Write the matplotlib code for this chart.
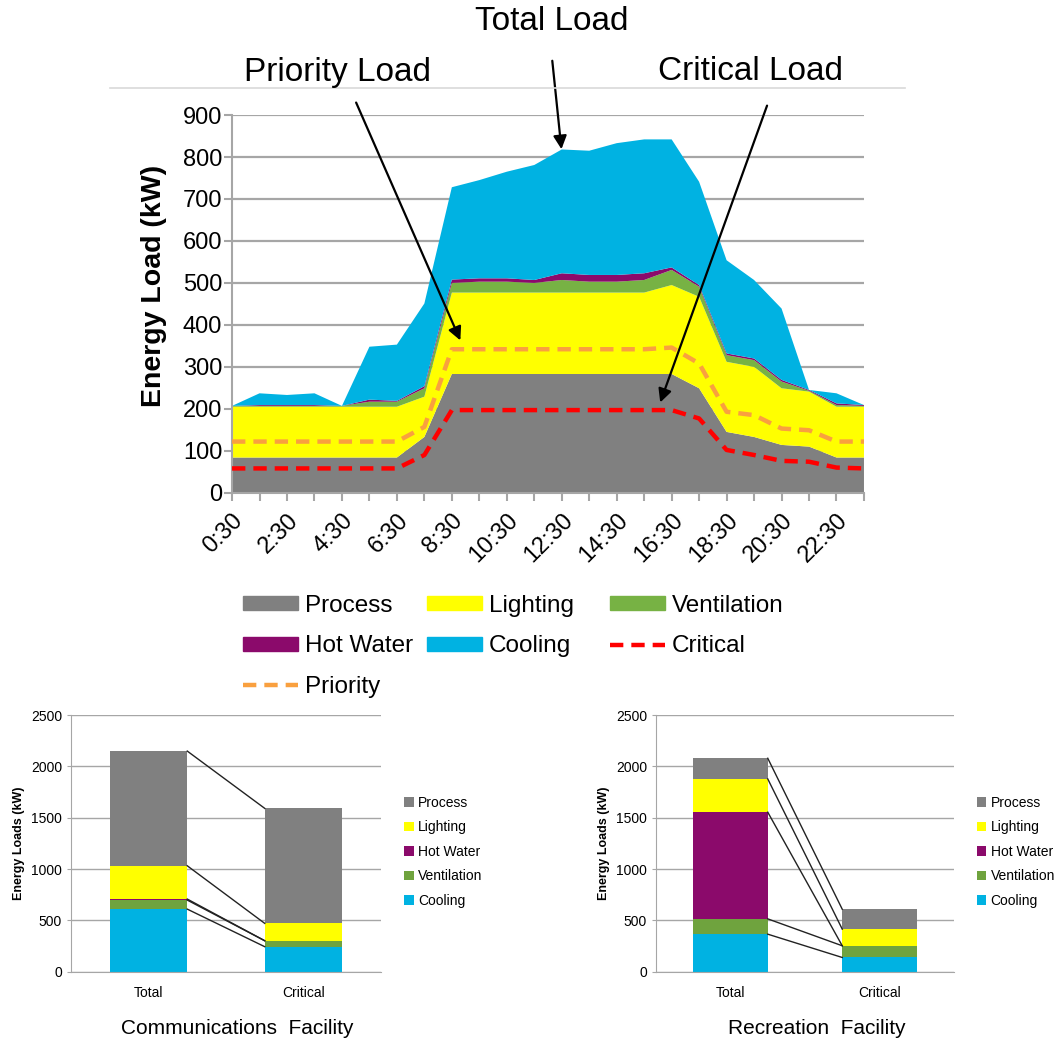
# Energy load profile (stacked area) + facility total vs critical bars

import matplotlib.pyplot as plt
from matplotlib.patches import Patch
from matplotlib.lines import Line2D
import numpy as np

plt.rcParams['font.family'] = ['Liberation Sans', 'DejaVu Sans']

# ---- data: main daily profile (kW) ----
hours = ["0:30", "1:30", "2:30", "3:30", "4:30", "5:30", "6:30", "7:30", "8:30", "9:30",
         "10:30", "11:30", "12:30", "13:30", "14:30", "15:30", "16:30", "17:30", "18:30",
         "19:30", "20:30", "21:30", "22:30", "23:30"]
process = [84, 84, 84, 84, 84, 84, 84, 133, 283, 283, 283, 283, 283, 283, 283, 283, 283,
           249, 145, 133, 114, 110, 84, 84]
lighting = [121, 121, 121, 121, 121, 121, 121, 96, 194, 194, 194, 194, 194, 194, 194, 194,
            212, 218, 167, 167, 135, 131, 121, 121]
ventilation = [2, 2, 2, 2, 2, 12, 12, 20, 23, 26, 26, 23, 30, 26, 26, 30, 36, 24, 16, 16,
               16, 2, 4, 2]
hot_water = [0, 2, 2, 2, 0, 5, 2, 5, 8, 8, 8, 7, 16, 16, 16, 16, 6, 4, 4, 4, 4, 2, 4, 2]
cooling = [0, 28, 24, 28, 0, 126, 134, 197, 220, 234, 254, 274, 295, 296, 314, 319, 305,
           246, 222, 187, 170, 0, 24, 0]
critical = [58, 58, 58, 58, 58, 58, 58, 90, 197, 197, 197, 197, 197, 197, 197, 197, 197,
            177, 102, 90, 76, 74, 60, 58]
priority = [122, 122, 122, 122, 122, 122, 122, 157, 342, 342, 342, 342, 342, 342, 342, 342,
            346, 308, 193, 185, 153, 149, 122, 122]

# ---- data: facility bars (kW), order Cooling, Ventilation, Hot Water, Lighting, Process ----
bar_cats = ["Total", "Critical"]
comm_cooling = [610, 244]
comm_vent = [88, 58]
comm_hw = [10, 0]
comm_light = [324, 169]
comm_process = [1117, 1120]
rec_cooling = [366, 139]
rec_vent = [149, 114]
rec_hw = [1039, 0]
rec_light = [324, 162]
rec_process = [201, 194]

c_process = "#808080"
c_light = "#FFFF00"
c_vent = "#77B244"
c_hw = "#8B0A6B"
c_cool = "#00B2E2"
c_crit = "#FF0000"
c_prio = "#F9A03F"
grid_c = "#A6A6A6"

fig = plt.figure(figsize=(10.61, 10.44), dpi=100)

# ---------------- main chart ----------------
ax = fig.add_axes([0.2187, 0.528, 0.5956, 0.3618])
x = np.arange(len(hours))
ax.stackplot(x, process, lighting, ventilation, hot_water, cooling,
             colors=[c_process, c_light, c_vent, c_hw, c_cool], zorder=2)
ax.plot(x, critical, color=c_crit, lw=3.2, ls=(0, (3, 1.8)), zorder=3)
ax.plot(x, priority, color=c_prio, lw=3.2, ls=(0, (3, 1.8)), zorder=3)
ax.set_xlim(0, len(hours) - 1)
ax.set_ylim(0, 900)
ax.set_yticks(range(0, 901, 100))
ax.set_xticks(x)
ax.set_xticklabels([h if i % 2 == 0 else "" for i, h in enumerate(hours)],
                   rotation=45, ha="right", rotation_mode="anchor", fontsize=17)
ax.tick_params(axis="y", labelsize=17, length=6, color=grid_c, width=1.5, pad=1)
ax.tick_params(axis="x", length=6, color=grid_c, width=1.5, pad=6)
ax.grid(axis="y", color=grid_c, lw=1.6, zorder=0)
ax.set_axisbelow(True)
for s in ["top", "right"]:
    ax.spines[s].set_visible(False)
for s in ["left", "bottom"]:
    ax.spines[s].set_color(grid_c)
    ax.spines[s].set_linewidth(1.5)
ax.set_ylabel("Energy Load (kW)", fontsize=20.5, fontweight="bold")
ax.yaxis.set_label_coords(-0.103, 0.547)

# header labels + arrows
fig.text(552 / 1061, 1 - 22 / 1044, "Total Load", fontsize=24, ha="center", va="center")
fig.text(338 / 1061, 1 - 72 / 1044, "Priority Load", fontsize=24, ha="center", va="center")
fig.text(750 / 1061, 1 - 72 / 1044, "Critical Load", fontsize=24, ha="center", va="center")
fig.add_artist(Line2D([110 / 1061, 905 / 1061], [1 - 88 / 1044, 1 - 88 / 1044],
                      color="#D9D9D9", lw=1.2))
arrow = dict(arrowstyle="-|>", color="black", lw=1.6, mutation_scale=20)
ax.annotate("", xy=(12.0, 812), xytext=(552, 1044 - 58), textcoords="figure pixels",
            arrowprops=arrow, annotation_clip=False)
ax.annotate("", xy=(8.35, 357), xytext=(355, 1044 - 100), textcoords="figure pixels",
            arrowprops=arrow, annotation_clip=False)
ax.annotate("", xy=(15.55, 209), xytext=(768, 1044 - 103), textcoords="figure pixels",
            arrowprops=arrow, annotation_clip=False)

# legend: three column legends so columns are evenly spaced
h_proc = Patch(color=c_process, label="Process")
h_light = Patch(color=c_light, label="Lighting")
h_vent = Patch(color=c_vent, label="Ventilation")
h_hw = Patch(color=c_hw, label="Hot Water")
h_cool = Patch(color=c_cool, label="Cooling")
h_crit = Line2D([], [], color=c_crit, lw=3.2, ls=(0, (3, 1.8)), label="Critical")
h_prio = Line2D([], [], color=c_prio, lw=3.2, ls=(0, (3, 1.8)), label="Priority")
leg_cols = [([h_proc, h_hw, h_prio], 243), ([h_light, h_cool], 427), ([h_vent, h_crit], 610)]
for hs, xpix in leg_cols:
    fig.legend(handles=hs, loc="upper left", bbox_to_anchor=(xpix / 1061, 1 - 595 / 1044),
               frameon=False, fontsize=17.5, handlelength=2.26, handleheight=0.5,
               labelspacing=0.76, handletextpad=0.3, borderpad=0, borderaxespad=0)


# ---------------- bottom bar charts ----------------
def facility(rect, cool, vent, hw, light, proc, title, title_x):
    b = fig.add_axes(rect)
    pos = np.arange(len(bar_cats))
    w = 0.5
    layers = [(cool, c_cool, "Cooling"), (vent, "#6FA33E", "Ventilation"),
              (hw, c_hw, "Hot Water"), (light, c_light, "Lighting"),
              (proc, c_process, "Process")]
    bottom = np.zeros(len(bar_cats))
    tops = []
    for vals, col, lab in layers:
        b.bar(pos, vals, w, bottom=bottom, color=col, label=lab, zorder=2)
        bottom = bottom + np.array(vals)
        tops.append(bottom.copy())
    for t in tops:
        b.plot([pos[0] + w / 2, pos[1] - w / 2], [t[0], t[1]], color="#222222", lw=1,
               zorder=3)
    b.set_xlim(-0.5, 1.5)
    b.set_ylim(0, 2500)
    b.set_yticks(range(0, 2501, 500))
    b.set_xticks(pos)
    b.set_xticklabels(bar_cats, fontsize=10)
    b.tick_params(axis="y", labelsize=10, length=3, color=grid_c)
    b.tick_params(axis="x", length=0, pad=10)
    b.grid(axis="y", color=grid_c, lw=1, zorder=0)
    b.set_axisbelow(True)
    for s in ["top", "right"]:
        b.spines[s].set_visible(False)
    for s in ["left", "bottom"]:
        b.spines[s].set_color(grid_c)
    b.set_ylabel("Energy Loads (kW)", fontsize=9, fontweight="bold")
    hs, ls = b.get_legend_handles_labels()
    b.legend(hs[::-1], ls[::-1], loc="center left", bbox_to_anchor=(1.034, 0.467),
             frameon=False, fontsize=10, handlelength=0.7, handleheight=0.7,
             handletextpad=0.3, labelspacing=0.75)
    fig.text(title_x, 1 - 1028 / 1044, title, fontsize=15, ha="center", va="center")


facility([71 / 1061, 0.0692, 310 / 1061, 0.2459], comm_cooling, comm_vent, comm_hw,
         comm_light, comm_process, "Communications  Facility", 237 / 1061)
facility([656 / 1061, 0.0692, 298 / 1061, 0.2459], rec_cooling, rec_vent, rec_hw,
         rec_light, rec_process, "Recreation  Facility", 817 / 1061)

fig.savefig("out.png", dpi=100)
